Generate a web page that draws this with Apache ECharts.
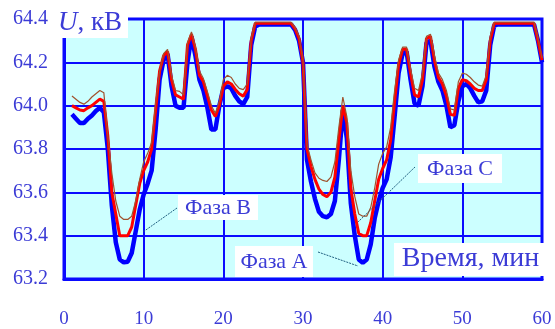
<!DOCTYPE html>
<html><head><meta charset="utf-8">
<script src="https://cdn.jsdelivr.net/npm/echarts@6/dist/echarts.min.js"></script>
<style>html,body{margin:0;padding:0;background:#fff}#c{width:555px;height:329px}</style>
</head><body><div id="c"></div>
<script>
const timeMin = [];
for (let i = 0; i < 119; i++) timeMin.push(1 + i * 0.5);
const phaseA = [63.96,63.94,63.92,63.92,63.94,63.955,63.975,63.99,63.97,63.80,63.54,63.37,63.29,63.277,63.28,63.32,63.42,63.52,63.59,63.64,63.70,63.89,64.12,64.21,64.24,64.09,64.0,63.99,63.99,64.2,64.32,64.23,64.12,64.07,63.99,63.89,63.89,64.0,64.08,64.09,64.08,64.045,64.02,64.007,64.04,64.28,64.365,64.375,64.375,64.375,64.375,64.375,64.375,64.375,64.375,64.375,64.35,64.30,64.2,63.75,63.65,63.57,63.51,63.49,63.485,63.50,63.56,63.75,63.98,63.85,63.55,63.40,63.29,63.275,63.29,63.36,63.48,63.56,63.62,63.66,63.76,63.95,64.15,64.24,64.25,64.12,64.01,64.0,64.09,64.29,64.30,64.18,64.11,64.07,64.0,63.9,63.91,64.02,64.09,64.1,64.08,64.045,64.015,64.02,64.07,64.28,64.37,64.375,64.375,64.375,64.375,64.375,64.375,64.375,64.375,64.375,64.375,64.30,64.2];
const phaseB = [64.0,63.99,63.98,63.977,63.99,64.0,64.015,64.03,64.02,63.86,63.60,63.50,63.40,63.40,63.40,63.44,63.54,63.64,63.70,63.74,63.80,63.98,64.16,64.23,64.25,64.12,64.05,64.04,64.03,64.28,64.33,64.26,64.14,64.11,64.045,63.98,63.95,64.0,64.09,64.11,64.10,64.075,64.055,64.044,64.075,64.30,64.38,64.38,64.38,64.38,64.38,64.38,64.38,64.38,64.38,64.38,64.355,64.31,64.2,63.80,63.72,63.66,63.615,63.59,63.58,63.60,63.67,63.84,64.0,63.92,63.62,63.50,63.41,63.40,63.40,63.46,63.56,63.66,63.71,63.75,63.84,64.02,64.19,64.26,64.26,64.15,64.05,64.04,64.12,64.31,64.32,64.21,64.13,64.10,64.045,63.96,63.955,64.08,64.12,64.115,64.1,64.08,64.07,64.07,64.12,64.30,64.38,64.38,64.38,64.38,64.38,64.38,64.38,64.38,64.38,64.38,64.38,64.30,64.21];
const phaseC = [64.045,64.03,64.015,64.007,64.02,64.04,64.055,64.07,64.06,63.86,63.69,63.56,63.49,63.475,63.475,63.49,63.56,63.66,63.74,63.78,63.83,64.01,64.16,64.24,64.26,64.14,64.07,64.066,64.05,64.29,64.34,64.27,64.16,64.125,64.065,64.0,63.965,64.02,64.12,64.14,64.13,64.1,64.08,64.074,64.1,64.31,64.385,64.385,64.385,64.385,64.385,64.385,64.385,64.385,64.385,64.385,64.36,64.32,64.21,63.82,63.75,63.69,63.665,63.655,63.65,63.67,63.74,63.90,64.04,63.95,63.70,63.58,63.50,63.49,63.49,63.53,63.62,63.73,63.78,63.81,63.90,64.07,64.21,64.27,64.27,64.17,64.08,64.07,64.15,64.32,64.33,64.23,64.15,64.12,64.07,63.985,63.98,64.11,64.15,64.145,64.13,64.11,64.095,64.09,64.14,64.32,64.385,64.385,64.385,64.385,64.385,64.385,64.385,64.385,64.385,64.385,64.385,64.31,64.22];
const xTicks = [0, 60, 10];
const yTicks = [63.2, 64.4, 0.2];
const labelA = 'Фаза А', labelB = 'Фаза В', labelC = 'Фаза С';
const yTitle = 'кВ', xTitle = 'Время, мин';

const pair = arr => timeMin.map((t, i) => [t, arr[i]]);
const txtColor = '#3b3bd6';
const serif = 'Liberation Serif';
const blue = '#0a0aff';

const chart = echarts.init(document.getElementById('c'), null, {renderer: 'canvas'});
function box(x, y, w, h, text, size, cy) {
  return [
    {type: 'rect', shape: {x, y, width: w, height: h}, style: {fill: '#fff'}, z: 100},
    {type: 'text', x: x + w / 2, y: cy, z: 101,
     style: {text, fill: txtColor, fontSize: size, fontFamily: serif, align: 'center', verticalAlign: 'middle'}}
  ];
}
function leader(x1, y1, x2, y2) {
  return {type: 'line', z: 102, shape: {x1, y1, x2, y2},
    style: {stroke: '#1f5f80', lineWidth: 1, lineDash: [2, 1]}};
}
chart.setOption({
  animation: false,
  backgroundColor: '#fff',
  textStyle: {fontFamily: serif},
  grid: {left: 64, right: 13, top: 19, bottom: 40, show: true, backgroundColor: '#ccffff',
         borderColor: blue, borderWidth: 3},
  xAxis: {type: 'value', min: xTicks[0], max: xTicks[1], interval: xTicks[2],
    axisLine: {show: true, lineStyle: {color: blue, width: 3}},
    axisTick: {show: false},
    splitLine: {show: true, lineStyle: {color: blue, width: 2}},
    axisLabel: {color: txtColor, fontFamily: serif, fontSize: 19, margin: 31}},
  yAxis: {type: 'value', min: yTicks[0], max: yTicks[1], interval: yTicks[2],
    axisLine: {show: true, lineStyle: {color: blue, width: 3}},
    axisTick: {show: false},
    splitLine: {show: true, lineStyle: {color: blue, width: 2}},
    axisLabel: {color: txtColor, fontFamily: serif, fontSize: 20, margin: 16,
      formatter: v => v.toFixed(1)}},
  series: [
    {name: labelA, type: 'line', data: pair(phaseA), showSymbol: false, z: 3,
     lineStyle: {color: '#0000ff', width: 4.5}},
    {name: labelB, type: 'line', data: pair(phaseB), showSymbol: false, z: 4,
     lineStyle: {color: '#ff0000', width: 3}},
    {name: labelC, type: 'line', data: pair(phaseC), showSymbol: false, z: 5,
     lineStyle: {color: '#a0522d', width: 1.2}}
  ],
  graphic: [
    {type: 'rect', shape: {x: 57, y: 9, width: 71, height: 29}, style: {fill: '#fff'}, z: 100},
    {type: 'text', x: 58, y: 23, z: 101, style: {
      text: '{i|U}{n|, ' + yTitle + '}', verticalAlign: 'middle',
      rich: {i: {fontStyle: 'italic', fontSize: 27, fontFamily: serif, fill: txtColor},
             n: {fontSize: 27, fontFamily: serif, fill: txtColor}}}},
    ...box(178, 195, 80, 25, labelB, 22, 208),
    ...box(418, 154, 84, 29, labelC, 22, 169),
    ...box(235, 246, 78, 31, labelA, 22, 262),
    ...box(394, 243, 153, 33, xTitle, 28, 259),
    leader(177, 208, 143, 232),
    leader(415, 167, 358, 222),
    leader(318, 252, 358, 266)
  ]
});
</script></body></html>
